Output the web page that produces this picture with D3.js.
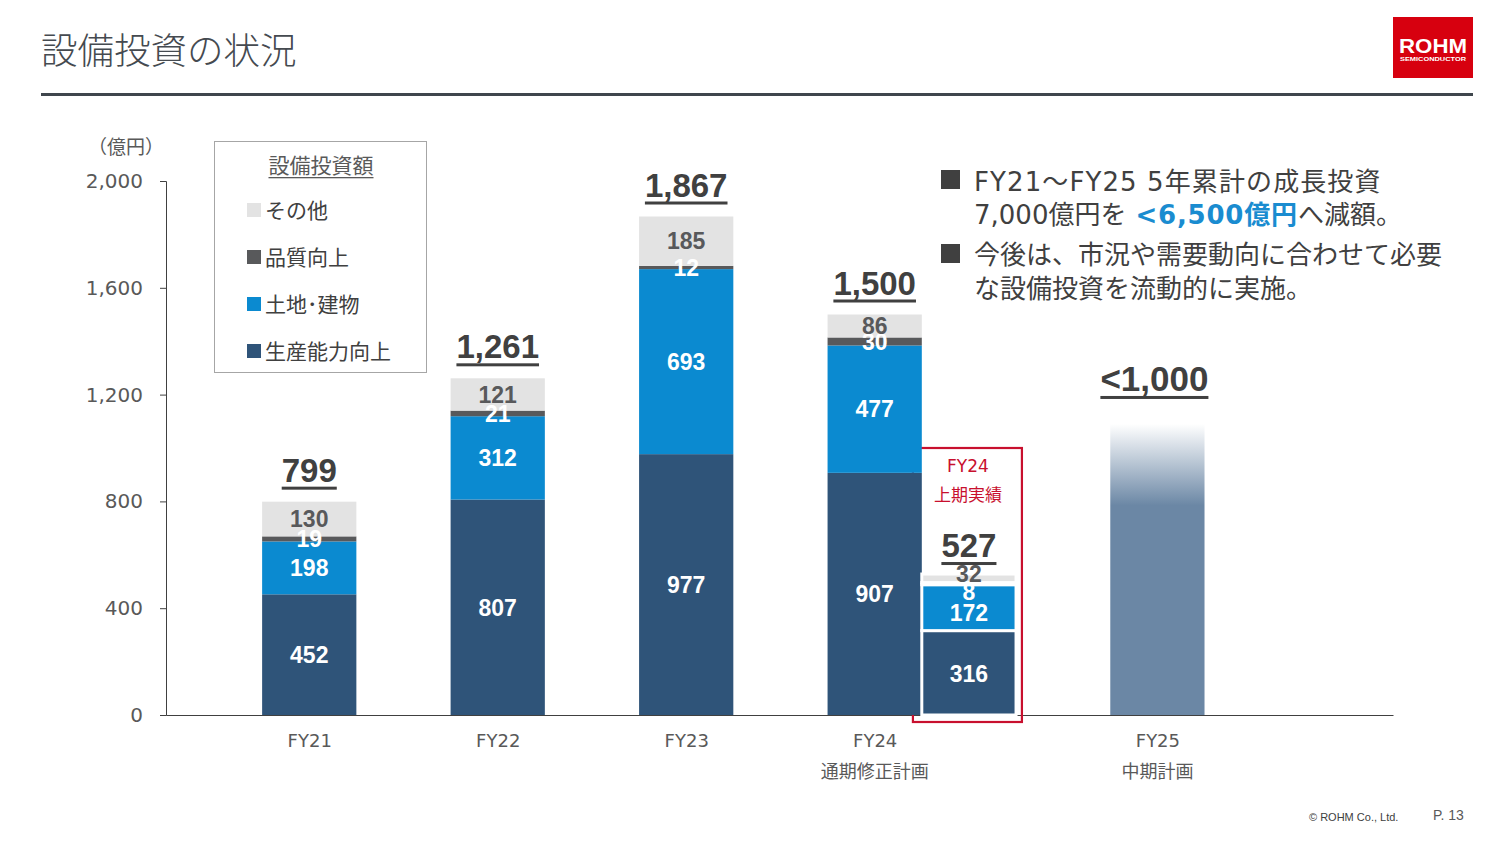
<!DOCTYPE html>
<html><head><meta charset="utf-8">
<script src="https://cdn.jsdelivr.net/npm/d3@7"></script>
<style>
html,body{margin:0;padding:0;background:#fff;}
svg{display:block;}
</style></head>
<body>
<svg id="c" width="1503" height="845"></svg>
<script>
// ---- data ----
const categories = ["FY21", "FY22", "FY23", "FY24", "FY24上期", "FY25"];
const categorySlots = [0, 1, 2, 3, 3.5, 4.5];
const axisLabels = ["FY21", "FY22", "FY23", "FY24", "FY25"];
const axisSubLabels = ["", "", "", "通期修正計画", "中期計画"];
const seriesNames = ["生産能力向上", "土地･建物", "品質向上", "その他"];
const capacity = [452, 807, 977, 907, 316];
const landBuilding = [198, 312, 693, 477, 172];
const quality = [19, 21, 12, 30, 8];
const other = [130, 121, 185, 86, 32];
const totalLabels = ["799", "1,261", "1,867", "1,500", "527"];
const fy25Value = 1090;
const fy25Label = "<1,000";
const yTicks = [0, 400, 800, 1200, 1600, 2000];

const colors = ["#2f5479", "#0b8ad0", "#58595b", "#e3e3e3"];
const labelColors = ["#ffffff", "#ffffff", "#ffffff", "#58595b"];

const svg = d3.select("#c");
const jp = "'DejaVu Sans','Noto Sans CJK JP',sans-serif";
const jpOnly = "'Noto Sans CJK JP','Noto Sans',sans-serif";
const num = "'Liberation Sans',Arial,sans-serif";

// ---- header ----
svg.append("text").attr("x", 41).attr("y", 64).text("設備投資の状況")
  .attr("font-family", jpOnly).attr("font-size", 36.5).attr("fill", "#454a50").attr("font-weight", 300);
svg.append("rect").attr("x", 41).attr("y", 93).attr("width", 1432).attr("height", 3).attr("fill", "#3f464d");
svg.append("rect").attr("x", 1393).attr("y", 17).attr("width", 80).attr("height", 61).attr("fill", "#d7000f");
svg.append("text").attr("x", 1433).attr("y", 53).attr("text-anchor", "middle").text("ROHM")
  .attr("font-family", num).attr("font-weight", 700).attr("font-size", 20).attr("fill", "#fff")
  .attr("textLength", 68).attr("lengthAdjust", "spacingAndGlyphs");
svg.append("text").attr("x", 1433).attr("y", 61).attr("text-anchor", "middle").text("SEMICONDUCTOR")
  .attr("font-family", num).attr("font-weight", 700).attr("font-size", 5.5).attr("fill", "#fff")
  .attr("textLength", 66).attr("lengthAdjust", "spacingAndGlyphs");

// ---- scales ----
const x = d3.scaleLinear().domain([-0.76, 5.75]).range([166, 1393]);
const y = d3.scaleLinear().domain([0, 2000]).range([715, 181]);
const bw = x(0.25) - x(-0.25);

// ---- axes ----
const yAxis = svg.append("g").attr("transform", `translate(${x(-0.76)},0)`)
  .call(d3.axisLeft(y).tickValues(yTicks).tickFormat(d3.format(",")).tickSizeOuter(0).tickSize(6).tickPadding(17));
yAxis.select(".domain").attr("stroke", "#404040");
yAxis.selectAll(".tick line").attr("stroke", "#404040");
yAxis.selectAll(".tick text").attr("font-family", jp).attr("font-size", 20).attr("fill", "#595959");
svg.append("text").attr("x", 126).attr("y", 154).attr("text-anchor", "middle").text("（億円）")
  .attr("font-family", jpOnly).attr("font-size", 19).attr("fill", "#595959");

const xSlots = [0, 1, 2, 3, 4.5];
const xAxis = svg.append("g").attr("transform", `translate(0,${y(0)})`)
  .call(d3.axisBottom(x).tickValues(xSlots).tickFormat((d, i) => axisLabels[i]).tickSize(0).tickSizeOuter(0).tickPadding(19));
xAxis.select(".domain").attr("stroke", "#404040");
xAxis.selectAll(".tick text").attr("font-family", jp).attr("font-size", 18).attr("fill", "#595959");
svg.selectAll(".sub").data(axisSubLabels).join("text").attr("class", "sub")
  .attr("x", (d, i) => x(xSlots[i])).attr("y", 778).attr("text-anchor", "middle").text(d => d)
  .attr("font-family", jpOnly).attr("font-size", 18).attr("fill", "#595959");

// ---- stacked bars ----
const rows = categories.slice(0, 5).map((c, i) => ({
  cat: c, slot: categorySlots[i], vals: [capacity[i], landBuilding[i], quality[i], other[i]], total: totalLabels[i]
}));
const stackKeys = [0, 1, 2, 3];
const stack = d3.stack().keys(stackKeys).value((d, k) => d.vals[k]);
const layers = stack(rows);

// H1 box
const h1 = rows[4];
svg.append("rect").attr("x", x(h1.slot) - 56).attr("y", 448).attr("width", 109).attr("height", 274)
  .attr("fill", "none").attr("stroke", "#c8102e").attr("stroke-width", 2.2);
svg.append("text").attr("x", x(h1.slot) - 1).attr("y", 472).attr("text-anchor", "middle").text("FY24")
  .attr("font-family", jp).attr("font-size", 17).attr("fill", "#c8102e");
svg.append("text").attr("x", x(h1.slot) - 1).attr("y", 501).attr("text-anchor", "middle").text("上期実績")
  .attr("font-family", jpOnly).attr("font-size", 17).attr("fill", "#c8102e");

layers.forEach((layer, k) => {
  svg.append("g").selectAll("rect").data(layer).join("rect")
    .attr("x", d => x(d.data.slot) - bw / 2)
    .attr("y", d => y(d[1]))
    .attr("width", bw)
    .attr("height", d => y(d[0]) - y(d[1]))
    .attr("fill", colors[k])
    .attr("stroke", d => d.data.cat === "FY24上期" ? "#fff" : "none")
    .attr("stroke-width", 3);
});

// segment labels (thin segments in the half-year bar are nudged apart)
const nudge = (d, k) => d.data.cat === "FY24上期" ? [1, 5, 8, -5][k] : 0;
layers.forEach((layer, k) => {
  svg.append("g").selectAll("text").data(layer).join("text")
    .attr("x", d => x(d.data.slot))
    .attr("y", d => (y(d[0]) + y(d[1])) / 2 + nudge(d, k))
    .attr("dy", "0.36em")
    .attr("text-anchor", "middle")
    .text(d => d.data.vals[k])
    .attr("font-family", num).attr("font-weight", 700).attr("font-size", 23)
    .attr("fill", labelColors[k]);
});

// totals
function totalLabel(cx, baseline, txt, size) {
  const t = svg.append("text").attr("x", cx).attr("y", baseline).attr("text-anchor", "middle").text(txt)
    .attr("font-family", num).attr("font-weight", 700).attr("font-size", size || 33).attr("fill", "#404040");
  const w = t.node().getComputedTextLength();
  svg.append("rect").attr("x", cx - w / 2).attr("y", baseline + 5).attr("width", w).attr("height", 3).attr("fill", "#404040");
}
rows.forEach(r => {
  const top = y(d3.sum(r.vals));
  totalLabel(x(r.slot), top - (r.cat === "FY24上期" ? 17 : 20), r.total);
});

// FY25 plan bar with gradient
const defs = svg.append("defs");
const grad = defs.append("linearGradient").attr("id", "g25").attr("x1", 0).attr("y1", 0).attr("x2", 0).attr("y2", 1);
grad.append("stop").attr("offset", "0%").attr("stop-color", "#6b87a5").attr("stop-opacity", 0);
grad.append("stop").attr("offset", "28%").attr("stop-color", "#6b87a5").attr("stop-opacity", 1);
grad.append("stop").attr("offset", "100%").attr("stop-color", "#6b87a5").attr("stop-opacity", 1);
svg.append("rect").attr("x", x(categorySlots[5]) - bw / 2).attr("y", y(fy25Value)).attr("width", bw)
  .attr("height", y(0) - y(fy25Value)).attr("fill", "url(#g25)");
totalLabel(x(categorySlots[5]) - 3, y(fy25Value) - 33, fy25Label, 35);

// ---- legend ----
svg.append("rect").attr("x", 214.5).attr("y", 141.5).attr("width", 212).attr("height", 231)
  .attr("fill", "#fff").attr("stroke", "#a6a6a6");
const lt = svg.append("text").attr("x", 321).attr("y", 173).attr("text-anchor", "middle").text("設備投資額")
  .attr("font-family", jpOnly).attr("font-size", 21).attr("fill", "#595959");
const ltw = lt.node().getComputedTextLength();
svg.append("rect").attr("x", 321 - ltw / 2).attr("y", 177).attr("width", ltw).attr("height", 1.3).attr("fill", "#595959");
const legendOrder = [3, 2, 1, 0];
legendOrder.forEach((k, i) => {
  const cy = 210 + i * 47;
  svg.append("rect").attr("x", 247).attr("y", cy - 7).attr("width", 14).attr("height", 14).attr("fill", colors[k]);
  svg.append("text").attr("x", 265).attr("y", cy).attr("dy", "0.36em").text(seriesNames[k])
    .attr("font-family", jpOnly).attr("font-size", 21).attr("fill", "#404040");
});

// ---- commentary ----
const cm = svg.append("g").attr("font-family", jp).attr("font-size", 26).attr("fill", "#404040");
cm.append("rect").attr("x", 941).attr("y", 170).attr("width", 19).attr("height", 19).attr("fill", "#404040");
cm.append("rect").attr("x", 941).attr("y", 244).attr("width", 19).attr("height", 19).attr("fill", "#404040");
cm.append("text").attr("x", 974).attr("y", 191).text("FY21～FY25 5年累計の成長投資").attr("letter-spacing", 1.1);
const l2 = cm.append("text").attr("x", 974).attr("y", 224);
l2.append("tspan").text("7,000億円を");
l2.append("tspan").text("<6,500億円").attr("fill", "#1a8cd0").attr("font-weight", 700).attr("dx", 9).attr("letter-spacing", 0.8);
l2.append("tspan").text("へ減額。");
cm.append("text").attr("x", 974).attr("y", 264).text("今後は、市況や需要動向に合わせて必要");
cm.append("text").attr("x", 974).attr("y", 298).text("な設備投資を流動的に実施。");

// ---- footer ----
svg.append("text").attr("x", 1309).attr("y", 821).text("© ROHM Co., Ltd.")
  .attr("font-family", num).attr("font-size", 11).attr("fill", "#404040");
svg.append("text").attr("x", 1433).attr("y", 820).text("P. 13")
  .attr("font-family", num).attr("font-size", 14).attr("fill", "#595959");
</script>
</body></html>
